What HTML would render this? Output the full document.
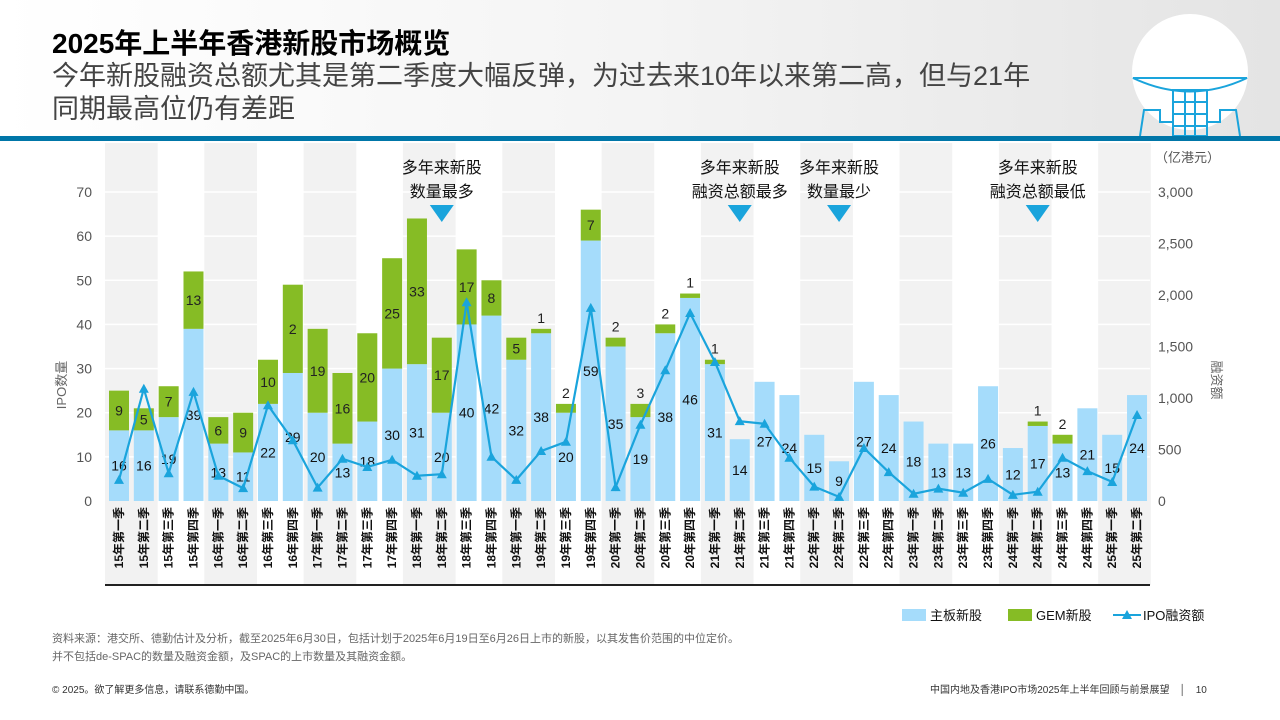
<!DOCTYPE html>
<html><head><meta charset="utf-8">
<style>
body{margin:0;width:1280px;height:720px;overflow:hidden;background:#fff;font-family:"Liberation Sans","Noto Sans CJK SC",sans-serif;position:relative}
.hdr{position:absolute;left:0;top:0;width:1280px;height:136px;background:linear-gradient(90deg,#fff 0%,#f4f4f4 50%,#e4e4e4 100%)}
.bl{position:absolute;left:0;top:136px;width:1280px;height:5px;background:#0076a8}
.t1{position:absolute;left:52px;top:22px;font-size:28px;font-weight:bold;color:#000}
.t2{position:absolute;left:52px;top:60px;font-size:27px;color:#444;line-height:33px}
.src{position:absolute;left:52px;top:630px;font-size:11px;color:#666;line-height:18px}
.ft{position:absolute;top:681px;font-size:10px;color:#333}
</style></head><body>
<div class="hdr"></div>
<div class="bl"></div>
<div class="t1">2025年上半年香港新股市场概览</div>
<div class="t2">今年新股融资总额尤其是第二季度大幅反弹，为过去来10年以来第二高，但与21年<br>同期最高位仍有差距</div>
<svg style="position:absolute;left:1130px;top:10px" width="120" height="126">
<circle cx="60" cy="62" r="58" fill="#fff"/>
<g fill="none" stroke="#1aa4dc" stroke-width="2">
<path d="M3 68 Q60 95 117 68 Z"/><rect x="43" y="80" width="34" height="46"/><path d="M10 126 L14 100 L30 100 L30 112 L43 112 M110 126 L106 100 L90 100 L90 112 L77 112"/>
<path d="M55 80v46M65 80v46M43 92h34M43 104h34M43 116h34"/></g></svg>
<div id="chart"></div>
<div class="src">资料来源：港交所、德勤估计及分析，截至2025年6月30日，包括计划于2025年6月19日至6月26日上市的新股，以其发售价范围的中位定价。<br>并不包括de-SPAC的数量及融资金额，及SPAC的上市数量及其融资金额。</div>
<div class="ft" style="left:52px">© 2025。欲了解更多信息，请联系德勤中国。</div>
<div class="ft" style="left:930px">中国内地及香港IPO市场2025年上半年回顾与前景展望　│　10</div>
<script>
const categories=["15年第一季","15年第二季","15年第三季","15年第四季","16年第一季","16年第二季","16年第三季","16年第四季","17年第一季","17年第二季","17年第三季","17年第四季","18年第一季","18年第二季","18年第三季","18年第四季","19年第一季","19年第二季","19年第三季","19年第四季","20年第一季","20年第二季","20年第三季","20年第四季","21年第一季","21年第二季","21年第三季","21年第四季","22年第一季","22年第二季","22年第三季","22年第四季","23年第一季","23年第二季","23年第三季","23年第四季","24年第一季","24年第二季","24年第三季","24年第四季","25年第一季","25年第二季"];
const mainBoard=[16,16,19,39,13,11,22,29,20,13,18,30,31,20,40,42,32,38,20,59,35,19,38,46,31,14,27,24,15,9,27,24,18,13,13,26,12,17,13,21,15,24];
const gem=[9,5,7,13,6,9,10,20,19,16,20,25,33,17,17,8,5,1,2,7,2,3,2,1,1,0,0,0,0,0,0,0,0,0,0,0,0,1,2,0,0,0];
const gemLabels=["9","5","7","13","6","9","10","2","19","16","20","25","33","17","17","8","5","1","2","7","2","3","2","1","1","","","","","","","","","","","","","1","2","","",""];
const ipoAmount=[205,1090,270,1060,245,125,930,590,130,410,330,400,245,260,1930,430,205,485,575,1875,135,740,1270,1825,1350,775,750,420,140,40,515,280,70,120,80,215,60,90,420,290,185,835];
const leftTicks=[0,10,20,30,40,50,60,70];
const rightTicks=[0,500,1000,1500,2000,2500,3000];
const callouts=[{i:13,t:["多年来新股","数量最多"]},{i:25,t:["多年来新股","融资总额最多"]},{i:29,t:["多年来新股","数量最少"]},{i:37,t:["多年来新股","融资总额最低"]}];

const NS="http://www.w3.org/2000/svg";
const svg=document.createElementNS(NS,"svg");
svg.setAttribute("width",1280);svg.setAttribute("height",720);
svg.style.position="absolute";svg.style.left="0";svg.style.top="0";
document.getElementById("chart").appendChild(svg);
const x0=119,step=24.83,y0=501,yTop=192;
const xs=i=>x0+i*step;
const yL=v=>y0-(v/70)*(y0-yTop);
const yR=v=>y0-(v/3000)*(y0-yTop);
function mk(tag,at,parent){const e=document.createElementNS(NS,tag);for(const k in at)e.setAttribute(k,at[k]);(parent||svg).appendChild(e);return e;}
for(let i=0;i<categories.length;i+=4){
 const b=mk("rect",{x:xs(i)-14,y:143,width:step*2+3,height:442,fill:"#f2f2f2"});
 
 
}
leftTicks.forEach(t=>{if(t>0){const g=mk("line",{x1:100,x2:1150,y1:yL(t),y2:yL(t),stroke:"#fff","stroke-width":1.5});}});
mk("line",{x1:105,x2:1150,y1:585,y2:585,stroke:"#222","stroke-width":2});
leftTicks.forEach(t=>{const e=mk("text",{x:92,y:yL(t)+5,"text-anchor":"end","font-size":14,fill:"#555"});e.textContent=t;});
rightTicks.forEach(t=>{const e=mk("text",{x:1158,y:yR(t)+5,"font-size":14,fill:"#555"});e.textContent=t.toLocaleString("en-US");});
let e=mk("text",{x:0,y:0,"font-size":13,fill:"#666",transform:"translate(66,385) rotate(-90)","text-anchor":"middle"});e.textContent="IPO数量";

e=mk("text",{x:0,y:0,"font-size":13,fill:"#666",transform:"translate(1212,380) rotate(90)","text-anchor":"middle"});e.textContent="融资额";

e=mk("text",{x:1155,y:162,"font-size":13,fill:"#555"});e.textContent="（亿港元）";

const bw=20;
categories.forEach((c,i)=>{
 const x=xs(i);
 const m=mk("rect",{x:x-bw/2,y:yL(mainBoard[i]),width:bw,height:y0-yL(mainBoard[i]),fill:"#a5dcfb"});
 
 if(gem[i]>0){
  const g=mk("rect",{x:x-bw/2,y:yL(mainBoard[i]+gem[i]),width:bw,height:yL(mainBoard[i])-yL(mainBoard[i]+gem[i]),fill:"#86bc25"});
  
  const inside=gem[i]>=5;
  const ly=inside?yL(mainBoard[i]+gem[i]/2)+5:yL(mainBoard[i]+gem[i])-6;
  const gl=mk("text",{x:x,y:ly,"text-anchor":"middle","font-size":14,fill:"#222"});gl.textContent=gemLabels[i];
  
 }
 const t=mk("text",{x:x,y:yL(mainBoard[i]/2)+5,"text-anchor":"middle","font-size":14,fill:"#111"});t.textContent=mainBoard[i];
 
 const cl=mk("text",{x:0,y:0,"font-size":12,"font-weight":"bold",fill:"#111","text-anchor":"end",transform:`translate(${x+4},${507}) rotate(-90)`});cl.textContent=c;
 
});
const pts=ipoAmount.map((v,i)=>xs(i)+","+yR(v)).join(" ");
const pl=mk("polyline",{points:pts,fill:"none",stroke:"#1aa4dc","stroke-width":2.2});

ipoAmount.forEach((v,i)=>{const x=xs(i),y=yR(v);const p=mk("polygon",{points:`${x},${y-5} ${x-5},${y+4} ${x+5},${y+4}`,fill:"#1aa4dc"});
});
callouts.forEach(c=>{const x=xs(c.i);
 c.t.forEach((s,k)=>{const t=mk("text",{x:x,y:173+k*24,"text-anchor":"middle","font-size":16,fill:"#111"});t.textContent=s;});
 const a=mk("polygon",{points:`${x-12},205 ${x+12},205 ${x},222`,fill:"#1aa4dc"});});
let lg=mk("rect",{x:902,y:609,width:24,height:12,fill:"#a5dcfb"});
e=mk("text",{x:930,y:620,"font-size":13,fill:"#111"});e.textContent="主板新股";
lg=mk("rect",{x:1008,y:609,width:24,height:12,fill:"#86bc25"});
e=mk("text",{x:1036,y:620,"font-size":13,fill:"#111"});e.textContent="GEM新股";
lg=mk("line",{x1:1113,x2:1141,y1:615,y2:615,stroke:"#1aa4dc","stroke-width":2});
mk("polygon",{points:"1127,610 1122,619 1132,619",fill:"#1aa4dc"});
e=mk("text",{x:1143,y:620,"font-size":13,fill:"#111"});e.textContent="IPO融资额";
</script>
</body></html>
